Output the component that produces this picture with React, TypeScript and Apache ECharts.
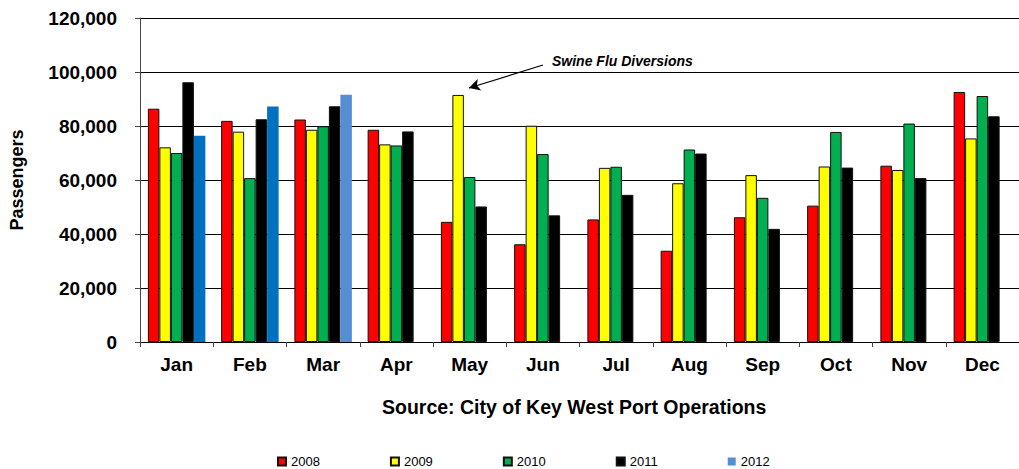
import React, { useEffect, useRef } from "react";
import * as echarts from "echarts";

const months = ["Jan", "Feb", "Mar", "Apr", "May", "Jun", "Jul", "Aug", "Sep", "Oct", "Nov", "Dec"];
const yearNames = ["2008", "2009", "2010", "2011", "2012"];
const s2008 = [86400, 81900, 82400, 78600, 44500, 36200, 45400, 33800, 46200, 50500, 65300, 92600];
const s2009 = [72100, 77900, 78600, 73200, 91500, 80100, 64500, 58800, 61800, 65000, 63700, 75400];
const s2010 = [70000, 60700, 79900, 72800, 61100, 69600, 64900, 71300, 53400, 77800, 80900, 91100];
const s2011 = [96200, 82500, 87300, 78000, 50200, 46900, 54500, 69800, 41900, 64600, 60700, 83600];
const s2012 = [76400, 87200, 91600, null, null, null, null, null, null, null, null, null];
const yTicks = [0, 20000, 40000, 60000, 80000, 100000, 120000];

const FONT = "'Liberation Sans', Arial, sans-serif";
const colors = ["#FF0000", "#FFFF00", "#00B050", "#000000", "#558ED5"];
const darkBlue = "#0070C0";

export default function App() {
  const ref = useRef<HTMLDivElement>(null);
  useEffect(() => {
    if (!ref.current) return;
    const chart = echarts.init(ref.current, undefined, { renderer: "svg" });
    const all = [s2008, s2009, s2010, s2011, s2012];
    const series: any[] = all.map((d, i) => {
      const isLast = i === 4;
      return {
        name: yearNames[i],
        type: "bar",
        barWidth: 11.5,
        barGap: "0%",
        data: isLast
          ? d.map((v, j) => (v == null ? null : j < 2 ? { value: v, itemStyle: { color: darkBlue } } : v))
          : d,
        itemStyle: {
          color: colors[i],
          borderColor: isLast ? colors[i] : "#111",
          borderWidth: isLast ? 0 : 1,
        },
        ...(i === 1
          ? {
              markLine: {
                silent: true,
                symbol: ["none", "arrow"],
                symbolSize: [9, 11],
                label: { show: false },
                lineStyle: { color: "#000", width: 1.2, type: "solid" },
                data: [[{ x: 543, y: 65 }, { x: 469, y: 88 }]],
              },
            }
          : {}),
      };
    });
    chart.setOption({
      animation: false,
      backgroundColor: "#fff",
      grid: { left: 140, right: -9, top: 18, bottom: 127, containLabel: false },
      legend: {
        data: yearNames,
        left: 277,
        top: 455,
        padding: 0,
        icon: "rect",
        itemWidth: 8,
        itemHeight: 8,
        itemGap: 70,
        textStyle: { fontFamily: FONT, fontSize: 13, lineHeight: 13, color: "#000" },
      },
      xAxis: {
        type: "category",
        data: months,
        axisLine: { show: true, lineStyle: { color: "#000", width: 1 } },
        axisTick: { show: true, length: 5, lineStyle: { color: "#444" } },
        axisLabel: { fontFamily: FONT, fontSize: 19, fontWeight: "bold", color: "#000", margin: 13 },
      },
      yAxis: {
        type: "value",
        min: yTicks[0],
        max: yTicks[yTicks.length - 1],
        interval: 20000,
        axisLine: { show: true, lineStyle: { color: "#444", width: 1 } },
        axisTick: { show: true, inside: false, length: 5, lineStyle: { color: "#444" } },
        splitLine: { show: true, lineStyle: { color: "#000", width: 1 } },
        axisLabel: {
          fontFamily: FONT,
          fontSize: 19,
          fontWeight: "bold",
          color: "#000",
          margin: 23,
          formatter: (v: number) => v.toLocaleString("en-US"),
        },
        name: "Passengers",
        nameLocation: "middle",
        nameGap: 114,
        nameRotate: 90,
        nameTextStyle: { fontFamily: FONT, fontSize: 18, fontWeight: "bold", color: "#000" },
      },
      graphic: [
        {
          type: "text",
          left: 382,
          top: 397,
          style: {
            text: "Source: City of Key West Port Operations",
            fontFamily: FONT,
            fontSize: 19.5,
            fontWeight: "bold",
            fill: "#000",
          },
        },
        {
          type: "text",
          x: 552,
          y: 61,
          style: {
            text: "Swine Flu Diversions",
            fontFamily: FONT,
            fontSize: 14,
            fontWeight: "bold",
            fontStyle: "italic",
            fill: "#000",
            verticalAlign: "middle",
          },
        },
      ],
      series,
    });
    return () => chart.dispose();
  }, []);
  return <div ref={ref} style={{ position: "fixed", left: 0, top: 0, width: 1019, height: 469 }} />;
}
